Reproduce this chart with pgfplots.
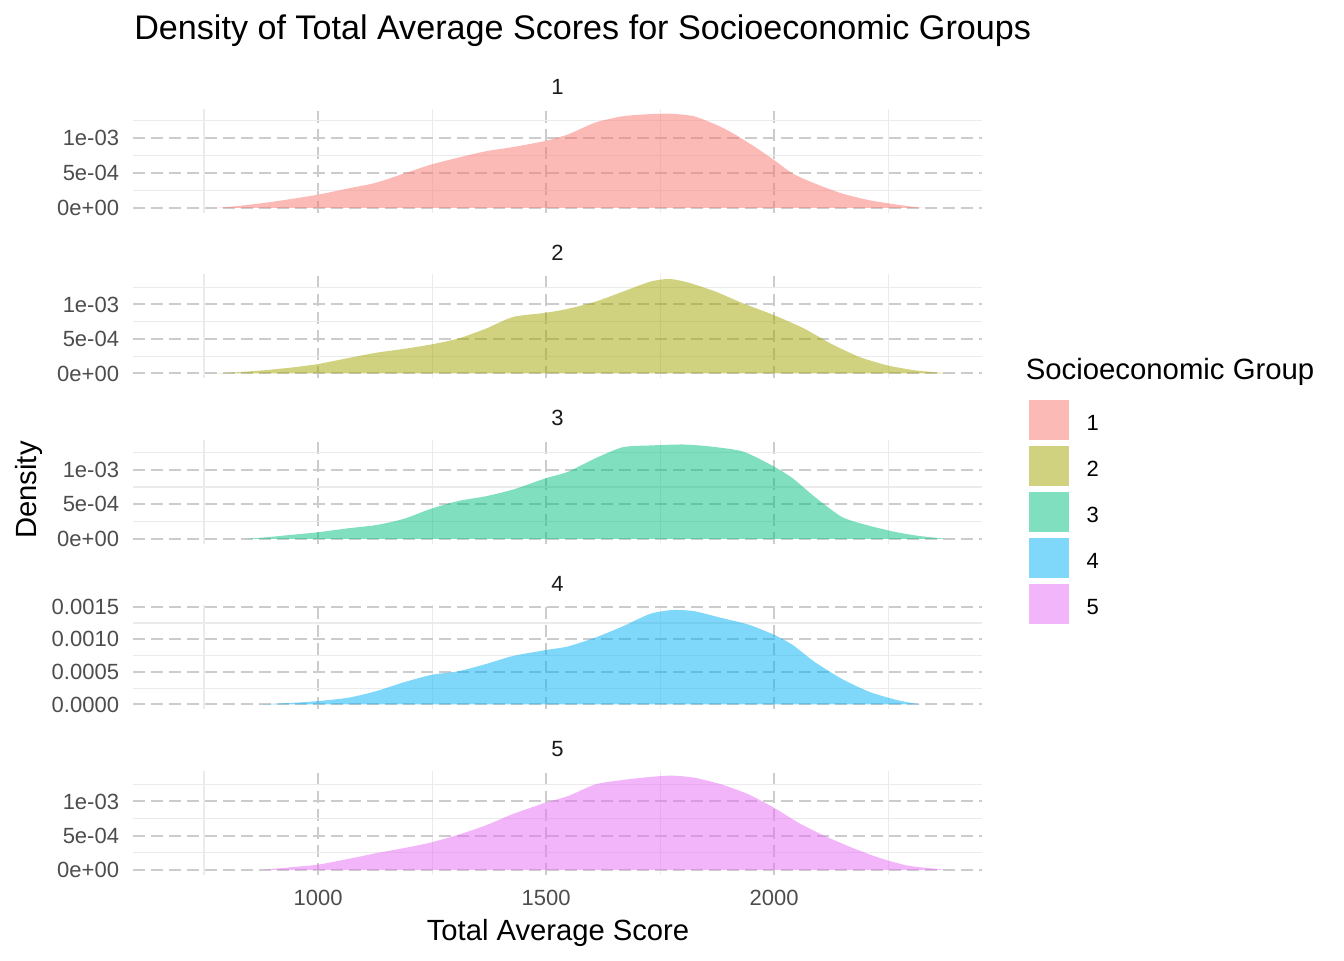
\documentclass[border=0pt]{standalone}
\usepackage{pgfplots}
\pgfplotsset{compat=1.18}
\usepackage{fontspec}
\setmainfont{Liberation Sans}

\definecolor{c1}{HTML}{F8766D}
\definecolor{c2}{HTML}{A3A500}
\definecolor{c3}{HTML}{00BF7D}
\definecolor{c4}{HTML}{00B0F6}
\definecolor{c5}{HTML}{E76BF3}
\definecolor{gridmaj}{HTML}{CCCCCC}
\definecolor{gridmin}{HTML}{EBEBEB}
\definecolor{tickgray}{HTML}{4D4D4D}
\definecolor{stripgray}{HTML}{1A1A1A}

\newcommand{\tickfont}{\fontsize{16.5bp}{19bp}\selectfont}
\newcommand{\titlefont}{\fontsize{21.9bp}{26bp}\selectfont}

\pgfplotsset{
  panel/.style={
    scale only axis, width=636.3bp, height=78bp,
    anchor=north west,
    xmin=595, xmax=2455,
    axis line style={draw=none},
    major tick length=0pt, minor tick length=0pt,
    xtick={1000,1500,2000}, minor xtick={750,1250,1750,2250},
    ytick={0,0.0005,0.001}, minor ytick={0.00025,0.00075,0.00125},
    yticklabels={0e+00,5e-04,1e-03},
    xticklabels={,,},
    scaled y ticks=false, scaled x ticks=false,
    xmajorgrids, ymajorgrids, xminorgrids, yminorgrids,
    major grid style={draw=gridmaj, line width=1.5bp, dash pattern=on 9bp off 4.5bp},
    minor grid style={draw=gridmin, line width=0.8bp},
    tick label style={font=\tickfont, text=tickgray},
    yticklabel style={inner sep=0pt, xshift=-10.5bp},
    xticklabel style={inner sep=0pt, anchor=north, yshift=-11.2bp},
  },
  dens/.style={fill=#1, fill opacity=0.5, draw=none, smooth, tension=0.4},
}

\begin{document}
\begin{tikzpicture}[x=0.75bp, y=0.75bp]
\path[use as bounding box] (0,0) rectangle (1344,960);

% group 1
\begin{axis}[panel, at={(99.975bp,638.475bp)}, ymin=-0.0675e-3, ymax=1.4175e-3]
\addplot[dens=c1] table {
x y
779 0
827 0.03e-3
887 0.077e-3
947 0.134e-3
1000 0.19e-3
1067 0.28e-3
1127 0.36e-3
1188 0.49e-3
1248 0.62e-3
1308 0.72e-3
1368 0.81e-3
1428 0.87e-3
1498 0.957e-3
1548 1.05e-3
1608 1.22e-3
1668 1.31e-3
1728 1.34e-3
1776 1.345e-3
1824 1.31e-3
1872 1.19e-3
1909 1.07e-3
1957 0.875e-3
2000 0.684e-3
2041 0.49e-3
2089 0.35e-3
2149 0.206e-3
2209 0.11e-3
2269 0.048e-3
2317 0.005e-3
2330 0
} \closedcycle;
\end{axis}

% group 2
\begin{axis}[panel, at={(99.975bp,514.35bp)}, ymin=-0.0685e-3, ymax=1.4385e-3]
\addplot[dens=c2] table {
x y
773 0
827 0.02e-3
887 0.05e-3
947 0.09e-3
1000 0.137e-3
1067 0.224e-3
1127 0.30e-3
1188 0.356e-3
1248 0.42e-3
1308 0.507e-3
1368 0.65e-3
1428 0.82e-3
1498 0.878e-3
1548 0.937e-3
1608 1.04e-3
1668 1.185e-3
1728 1.33e-3
1770 1.37e-3
1812 1.317e-3
1872 1.185e-3
1932 1.015e-3
2000 0.844e-3
2066 0.65e-3
2125 0.43e-3
2185 0.244e-3
2245 0.122e-3
2305 0.049e-3
2365 0.01e-3
2375 0
} \closedcycle;
\end{axis}

% group 3 (holds the legend)
\begin{axis}[panel, at={(99.975bp,390.225bp)}, ymin=-0.06825e-3, ymax=1.43325e-3,
  legend style={draw=none, fill=none, inner sep=0pt, outer sep=0pt,
    row sep=4.5bp, column sep=13.2bp,
    at={(axis description cs:1.05575,1.3817)}, anchor=north west,
    font=\fontsize{16.5bp}{19bp}\selectfont,
    nodes={inner sep=0pt}},
  legend cell align=left,
  legend image code/.code={\fill[#1] (0bp,-12bp) rectangle (30bp,18bp);},
]
\addplot[dens=c3, forget plot] table {
x y
839 0
887 0.024e-3
947 0.063e-3
1000 0.097e-3
1067 0.155e-3
1127 0.2e-3
1188 0.29e-3
1248 0.437e-3
1308 0.549e-3
1368 0.617e-3
1428 0.714e-3
1498 0.874e-3
1548 0.97e-3
1608 1.165e-3
1668 1.325e-3
1728 1.35e-3
1800 1.364e-3
1860 1.335e-3
1932 1.262e-3
2000 1.044e-3
2041 0.874e-3
2089 0.607e-3
2149 0.316e-3
2209 0.19e-3
2269 0.097e-3
2317 0.044e-3
2365 0.01e-3
2375 0
} \closedcycle;
\addlegendimage{fill=c1, fill opacity=0.5, draw=none}
\addlegendentry{1}
\addlegendimage{fill=c2, fill opacity=0.5, draw=none}
\addlegendentry{2}
\addlegendimage{fill=c3, fill opacity=0.5, draw=none}
\addlegendentry{3}
\addlegendimage{fill=c4, fill opacity=0.5, draw=none}
\addlegendentry{4}
\addlegendimage{fill=c5, fill opacity=0.5, draw=none}
\addlegendentry{5}
\end{axis}

% group 4
\begin{axis}[panel, at={(99.975bp,266.1bp)}, ymin=-0.0725e-3, ymax=1.5225e-3,
  ytick={0,0.0005,0.001,0.0015},
  yticklabels={0.0000,0.0005,0.0010,0.0015}]
\addplot[dens=c4] table {
x y
869 0
947 0.026e-3
1000 0.052e-3
1067 0.104e-3
1127 0.203e-3
1188 0.34e-3
1248 0.453e-3
1308 0.51e-3
1368 0.62e-3
1428 0.745e-3
1498 0.833e-3
1548 0.89e-3
1608 1.026e-3
1668 1.198e-3
1728 1.39e-3
1776 1.448e-3
1824 1.432e-3
1884 1.328e-3
1944 1.224e-3
2000 1.068e-3
2041 0.911e-3
2089 0.651e-3
2149 0.39e-3
2209 0.193e-3
2269 0.068e-3
2311 0.01e-3
2320 0
} \closedcycle;
\end{axis}

% group 5
\begin{axis}[panel, at={(99.975bp,141.975bp)}, ymin=-0.069e-3, ymax=1.449e-3,
  xticklabels={1000,1500,2000}]
\addplot[dens=c5] table {
x y
875 0
947 0.044e-3
1000 0.078e-3
1067 0.162e-3
1127 0.245e-3
1188 0.319e-3
1248 0.402e-3
1308 0.515e-3
1368 0.652e-3
1428 0.819e-3
1498 0.98e-3
1548 1.078e-3
1608 1.25e-3
1668 1.314e-3
1728 1.358e-3
1776 1.377e-3
1824 1.348e-3
1884 1.25e-3
1944 1.103e-3
2000 0.907e-3
2054 0.686e-3
2113 0.49e-3
2173 0.319e-3
2233 0.172e-3
2293 0.064e-3
2365 0.01e-3
2375 0
} \closedcycle;
\end{axis}

% facet strips
\foreach \g/\t in {1/108.7, 2/274.2, 3/439.7, 4/605.2, 5/770.7} {
  \node[anchor=base, inner sep=0pt, font=\tickfont, text=stripgray]
    at (557.5, {960-\t+13.9}) {\g};
}

% titles
\node[anchor=base west, inner sep=0pt, font=\fontsize{25.6bp}{30bp}\selectfont]
  at (134, 920.7) {Density of Total Average Scores for Socioeconomic Groups};
\node[anchor=base, inner sep=0pt, font=\titlefont] at (558, 20)
  {Total Average Score};
\node[anchor=base, inner sep=0pt, rotate=90, font=\titlefont] at (36, 470)
  {Density};
\node[anchor=base west, inner sep=0pt, font=\fontsize{22bp}{26bp}\selectfont]
  at (1025.5, 580.7) {Socioeconomic Group};
\end{tikzpicture}
\end{document}
